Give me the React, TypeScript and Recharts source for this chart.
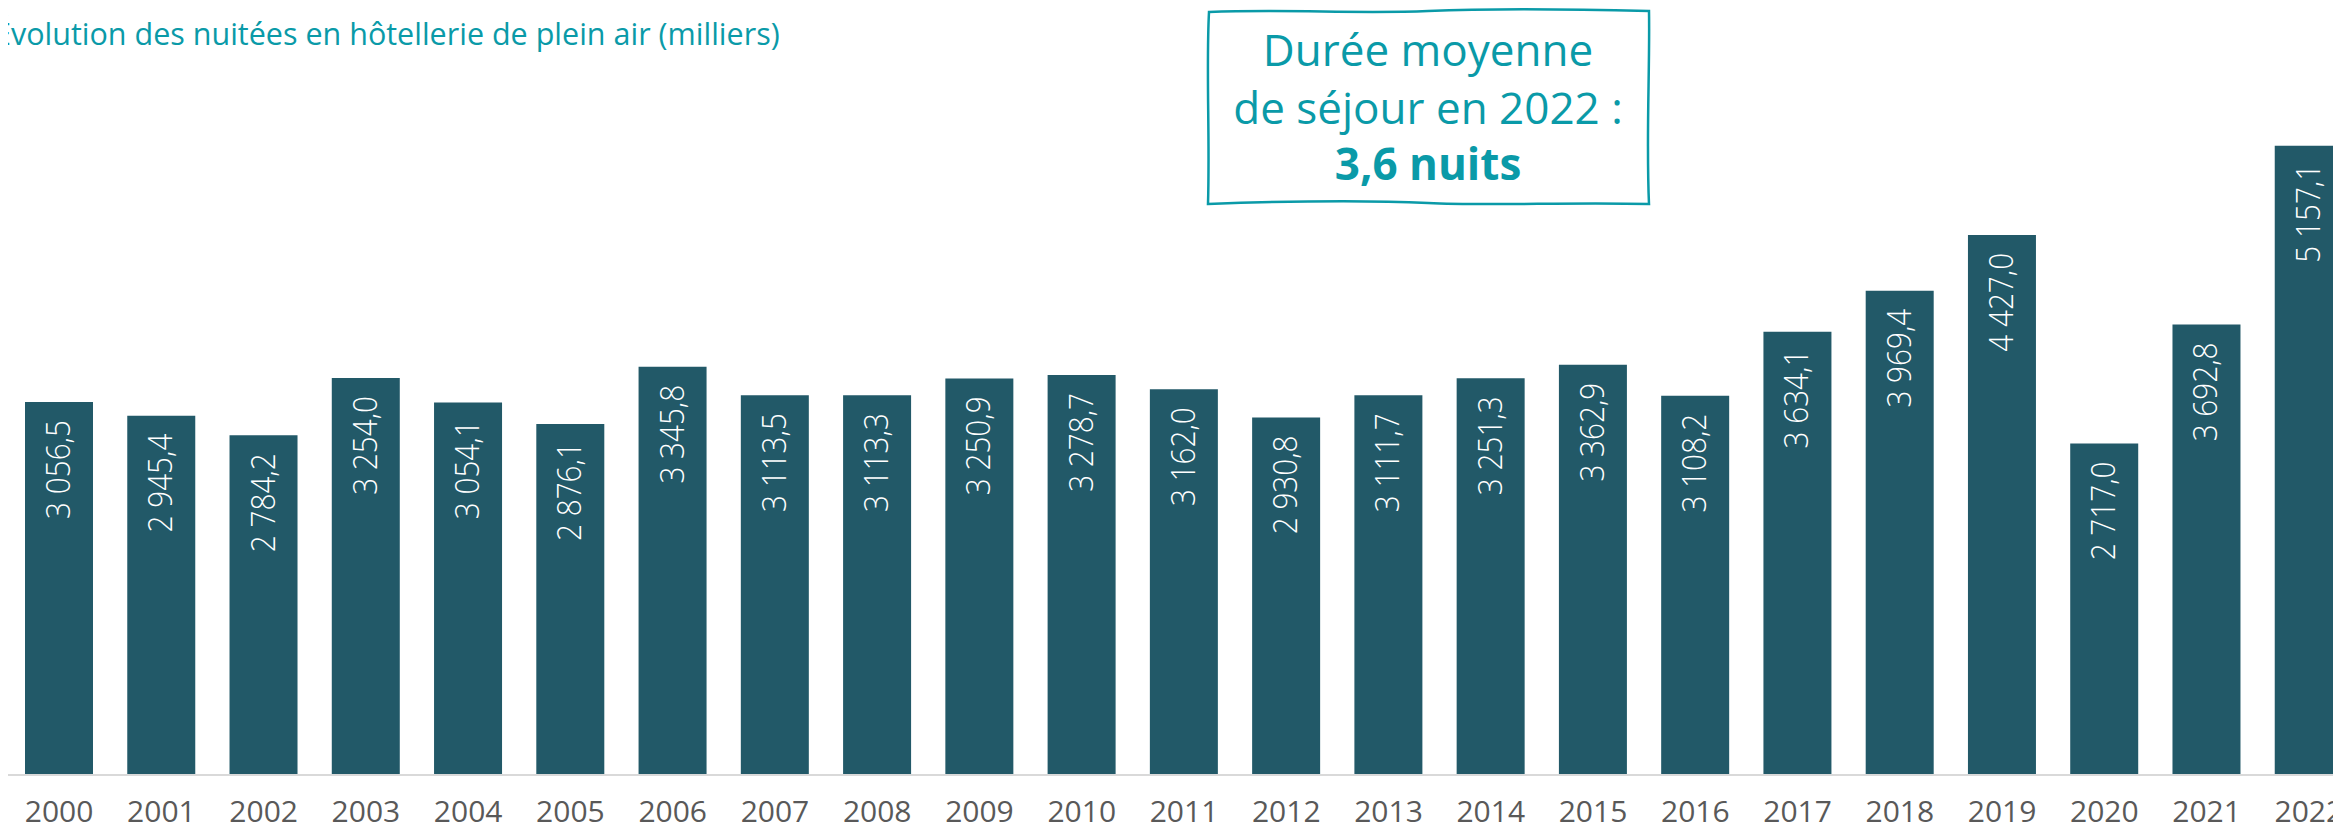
import { BarChart, Bar, XAxis, YAxis, LabelList } from "recharts"

const TEAL = "#0a9aa8"
const BAR = "#225968"
const FONT = "'Open Sans', 'Noto Sans', sans-serif"

const years = [
  "2000", "2001", "2002", "2003", "2004", "2005", "2006", "2007", "2008", "2009", "2010", "2011",
  "2012", "2013", "2014", "2015", "2016", "2017", "2018", "2019", "2020", "2021", "2022",
]
const nuitees = [
  3056.5, 2945.4, 2784.2, 3254.0, 3054.1, 2876.1, 3345.8, 3113.5, 3113.3, 3250.9, 3278.7, 3162.0,
  2930.8, 3111.7, 3251.3, 3362.9, 3108.2, 3634.1, 3969.4, 4427.0, 2717.0, 3692.8, 5157.1,
]
const boxLines = ["Durée moyenne", "de séjour en 2022 :"]
const boxHighlight = "3,6 nuits"
const title = "Évolution des nuitées en hôtellerie de plein air (milliers)"

const data = years.map((year, i) => ({ year, value: nuitees[i] }))

const fmt = (v: number) => {
  const [i, d] = v.toFixed(1).split(".")
  return i.replace(/\B(?=(\d{3})+(?!\d))/g, " ") + "," + d
}

const BarLabel = (props: any) => {
  const { x, y, width, value } = props
  const cx = x + width / 2
  return (
    <text
      transform={`translate(${cx + 11},${y + 18}) rotate(-90) scale(0.9,1)`}
      textAnchor="end"
      fill="#ffffff"
      fontSize={33}
      fontWeight={300}
      fontFamily={FONT}
    >
      {fmt(value)}
    </text>
  )
}

export default function App() {
  return (
    <div style={{ position: "relative", width: 2333, height: 823, overflow: "hidden" }}>
      <BarChart
        width={2352}
        height={823}
        data={data}
        margin={{ top: 35, right: 0, left: 0, bottom: 0 }}
      >
        <XAxis
          dataKey="year"
          height={56}
          tickLine={false}
          tickSize={0}
          tickMargin={26}
          axisLine={{ stroke: "#d9d9d9", strokeWidth: 2 }}
          tick={{ fill: "#595959", fontSize: 30, fontFamily: FONT }}
          interval={0}
        />
        <YAxis hide domain={[0, 6000]} />
        <Bar dataKey="value" fill={BAR} barSize={68} isAnimationActive={false}>
          <LabelList dataKey="value" content={BarLabel} />
        </Bar>
      </BarChart>

      <svg
        width={2333}
        height={823}
        style={{ position: "absolute", left: 0, top: 0, pointerEvents: "none" }}
      >
        <text x={-14} y={37} fill={TEAL} fontSize={30.5} fontFamily={FONT}>
          {title}
        </text>
        <path
          d="M1201 4 C1280 1,1350 6,1420 3 S1560 1,1641 3 C1642 60,1638 130,1641 196 C1560 194,1480 198,1420 195 S1280 193,1200 196 C1202 130,1198 60,1201 4 Z"
          fill="#ffffff"
          stroke={TEAL}
          strokeWidth={2.5}
        />
        {boxLines.map((line, i) => (
          <text key={line} x={1420} y={58 + i * 58} textAnchor="middle" fill={TEAL} fontSize={44} fontFamily={FONT}>
            {line}
          </text>
        ))}
        <text x={1420} y={172} textAnchor="middle" fill={TEAL} fontSize={44} fontWeight={700} fontFamily={FONT}>
          {boxHighlight}
        </text>
      </svg>
    </div>
  )
}
